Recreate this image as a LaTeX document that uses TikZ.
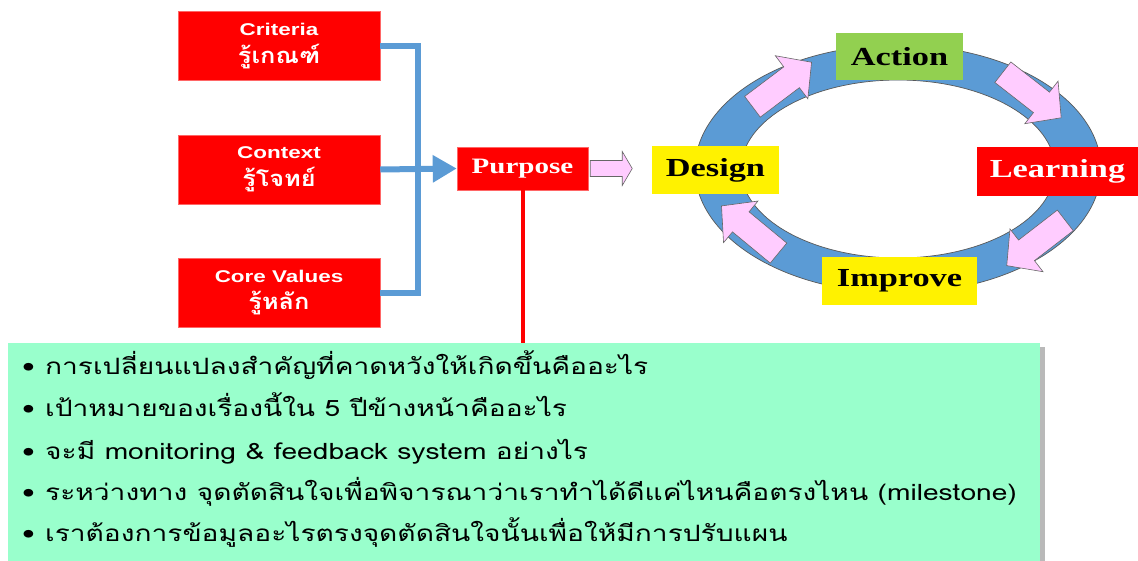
\documentclass[tikz,border=0pt]{standalone}
\usepackage{fontspec}
\usetikzlibrary{arrows.meta}
\newfontfamily\thaibody[Script=Thai,FakeStretch=1.25]{Loma}
\newfontfamily\thaihead[Script=Thai,FakeStretch=1.15]{Loma}
\newfontfamily\arialx[FakeStretch=1.32]{Liberation Sans}
\newfontfamily\timesx[FakeStretch=1.32]{Liberation Serif}
\definecolor{boxred}{HTML}{FF0000}
\definecolor{ringblue}{HTML}{5B9BD5}
\definecolor{pinkc}{HTML}{FFCCFF}
\definecolor{actgreen}{HTML}{92D050}
\definecolor{mint}{HTML}{99FFCC}
\newcommand\ringarrow[3]{%
  \begin{scope}[shift={(#1,#2)},rotate=#3]
    \filldraw[fill=pinkc,draw=gray!80!black,line width=0.6pt]
      (-37,-13) -- (12,-13) -- (12,-27) -- (37,0) -- (12,27) -- (12,13) -- (-37,13) -- cycle;
  \end{scope}}
\begin{document}
\begin{tikzpicture}[x=1pt,y=-1pt,
  redbox/.style={fill=boxred, draw=red!60!white, line width=0.5pt, minimum width=202pt, minimum height=69pt, inner sep=0pt, text=white, align=center},
  cyclebox/.style={inner sep=0pt, font=\timesx\bfseries\fontsize{26}{30}\selectfont},
  blueline/.style={draw=ringblue, line width=6pt},
  qline/.style={anchor=base west, inner sep=0pt, font=\thaibody\fontsize{22.5}{26}\selectfont},
]
\clip (0,0) rectangle (1138,560);
\fill[white] (0,0) rectangle (1138,560);

% left boxes
\node[redbox] (crit) at (279,46) {{\arialx\bfseries\fontsize{17}{19}\selectfont Criteria}\\[7pt]{\thaihead\bfseries\fontsize{22}{24}\selectfont รู้เกณฑ์}};
\node[redbox] (ctx) at (279,169.5) {{\arialx\bfseries\fontsize{17}{19}\selectfont Context}\\[7pt]{\thaihead\bfseries\fontsize{22}{24}\selectfont รู้โจทย์}};
\node[redbox] (core) at (279,292.5) {{\arialx\bfseries\fontsize{17}{19}\selectfont Core Values}\\[7pt]{\thaihead\bfseries\fontsize{22}{24}\selectfont รู้หลัก}};

% purpose
\node[fill=boxred, draw=red!60!white, line width=0.5pt, minimum width=131pt, minimum height=43pt, inner sep=0pt, text=white,
  font=\timesx\bfseries\fontsize{22}{26}\selectfont] (purp) at (522.5,168.5) {Purpose};

% blue connectors
\coordinate (jn) at (418,169.5);
\draw[blueline] (crit.east) -| (jn) |- (core.east);
\draw[blueline, -{Triangle[length=24pt,width=26pt]}] (ctx.east) -- (purp.west);

% green box
\fill[gray!55] (12,347) rectangle (1045,580);
\node[anchor=north west, fill=mint, minimum width=1032pt, minimum height=240pt, inner sep=0pt] (qs) at (8,343) {};

% red line
\draw[boxred, line width=4pt] (purp.south) -- (purp.south |- qs.north);

% cycle ring
\fill[ringblue, even odd rule, draw=black!65, line width=0.7pt]
  (898,169) ellipse [x radius=203pt, y radius=124pt]
  (898,169) ellipse [x radius=157pt, y radius=89pt];

\ringarrow{782}{84.5}{37}
\ringarrow{1032}{95}{-38}
\ringarrow{1036}{243}{217.7}
\ringarrow{750}{229.5}{140.4}

\node[cyclebox, fill=actgreen, minimum width=127pt, minimum height=47pt] (act) at (899.5,56.5) {Action};
\node[cyclebox, fill=yellow, minimum width=127pt, minimum height=48pt] (des) at (715.5,170) {Design};
\node[cyclebox, fill=boxred, text=white, minimum width=161pt, minimum height=49pt] (lrn) at (1057.5,171.5) {Learning};
\node[cyclebox, fill=yellow, minimum width=155pt, minimum height=48pt] (imp) at (899.5,281) {Improve};

% purpose -> design block arrow
\filldraw[fill=pinkc, draw=gray!80!black, line width=0.6pt]
  ([xshift=2pt,yshift=-8pt]purp.east) -- ([xshift=34pt,yshift=-8pt]purp.east) -- ([xshift=34pt,yshift=-17pt]purp.east)
  -- ([xshift=44pt]purp.east) -- ([xshift=34pt,yshift=17pt]purp.east) -- ([xshift=34pt,yshift=8pt]purp.east)
  -- ([xshift=2pt,yshift=8pt]purp.east) -- cycle;

% questions
\node[qline] (q1) at (22,374) {\makebox[23pt][l]{•}การเปลี่ยนแปลงสำคัญที่คาดหวังให้เกิดขึ้นคืออะไร};
\node[qline] (q2) at (22,416) {\makebox[23pt][l]{•}เป้าหมายของเรื่องนี้ใน 5 ปีข้างหน้าคืออะไร};
\node[qline] (q3) at (22,459) {\makebox[23pt][l]{•}จะมี monitoring \& feedback system อย่างไร};
\node[qline] (q4) at (22,500) {\makebox[23pt][l]{•}ระหว่างทาง จุดตัดสินใจเพื่อพิจารณาว่าเราทำได้ดีแค่ไหนคือตรงไหน (milestone)};
\node[qline] (q5) at (22,541) {\makebox[23pt][l]{•}เราต้องการข้อมูลอะไรตรงจุดตัดสินใจนั้นเพื่อให้มีการปรับแผน};
\end{tikzpicture}
\end{document}
